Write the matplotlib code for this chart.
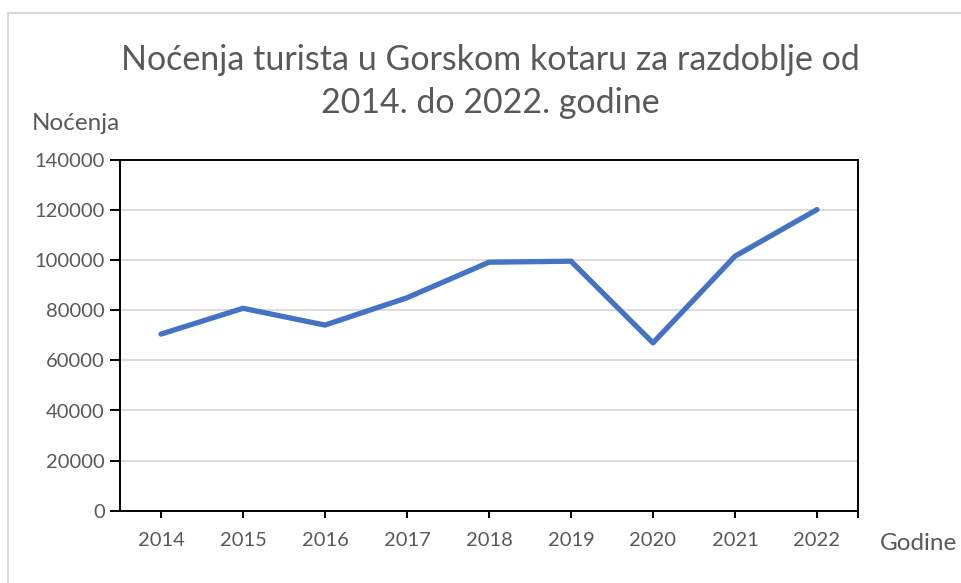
import matplotlib.pyplot as plt
from matplotlib.patches import Rectangle
import numpy as np

# Broj noćenja po godinama (očitano s grafikona)
years = ['2014', '2015', '2016', '2017', '2018', '2019', '2020', '2021', '2022']
nocenja = [70500, 80800, 74100, 85000, 99200, 99600, 67000, 101600, 120200]
y_ticks = [0, 20000, 40000, 60000, 80000, 100000, 120000, 140000]

plt.rcParams['font.family'] = ['Lato', 'DejaVu Sans']
text_color = '#595959'

fig = plt.figure(figsize=(9.62, 5.83), dpi=100)
ax = fig.add_axes([120 / 962, 1 - 510.7 / 583, (858 - 120) / 962, (510.7 - 160) / 583])

# light outer border of the chart area
fig.patches.append(Rectangle((8 / 962, -0.1), 1.1, 1 - 13 / 583 + 0.1,
                             transform=fig.transFigure, fill=False,
                             edgecolor='#d9d9d9', linewidth=1.5))

x = np.arange(len(years))
ax.plot(x, nocenja, color='#4472C4', linewidth=3.8, solid_capstyle='round',
        solid_joinstyle='round', zorder=3)

ax.set_xlim(-0.5, len(years) - 0.5)
ax.set_ylim(0, 140000)
ax.set_yticks(y_ticks)
ax.set_yticklabels([str(v) for v in y_ticks])
ax.set_xticks(x)
ax.set_xticklabels(years)
ax.set_xticks([len(years) - 0.5], minor=True)

ax.grid(axis='y', color='#d9d9d9', linewidth=1.3)
ax.set_axisbelow(True)
for s in ax.spines.values():
    s.set_color('black')
    s.set_linewidth(1.4)

ax.tick_params(axis='y', length=7, width=1.4, colors='black', labelcolor=text_color,
               labelsize=14.5, pad=4)
ax.tick_params(axis='x', which='both', length=5, width=1.4, colors='black',
               labelcolor=text_color, labelsize=14.5, pad=10)

fig.text(490 / 962, 1 - 60 / 583, 'Noćenja turista u Gorskom kotaru za razdoblje od',
         ha='center', va='center', fontsize=24.5, color=text_color)
fig.text(490 / 962, 1 - 103 / 583, '2014. do 2022. godine',
         ha='center', va='center', fontsize=24.5, color=text_color)
fig.text(32 / 962, 1 - 124 / 583, 'Noćenja', ha='left', va='center',
         fontsize=17.5, color=text_color)
fig.text(880 / 962, 1 - 544 / 583, 'Godine', ha='left', va='center',
         fontsize=17.5, color=text_color)

fig.savefig('out.png', dpi=100)
